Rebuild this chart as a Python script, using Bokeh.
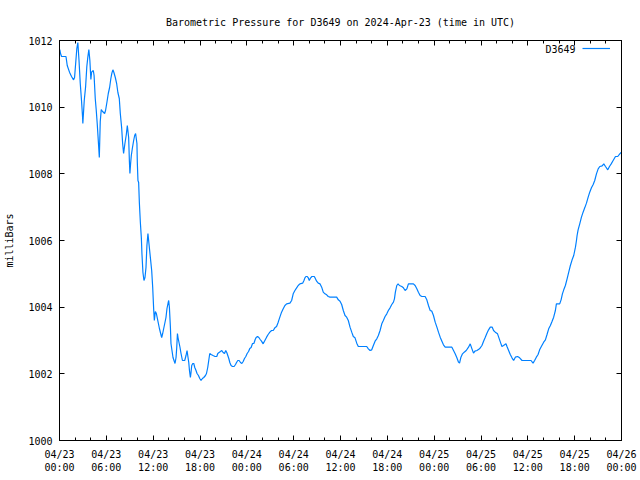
from bokeh.plotting import figure
from bokeh.models import Range1d, FixedTicker, LinearAxis, Legend, LegendItem, Label
from bokeh.embed import file_html
from bokeh.resources import INLINE

station = "D3649"
title_text = "Barometric Pressure for D3649 on 2024-Apr-23 (time in UTC)"

# hours since 2024-04-23 00:00 UTC
hours = [
    0.04, 0.13, 0.26, 0.83, 0.99, 1.28, 1.54, 1.80, 1.93, 2.09,
    2.22, 2.35, 2.50, 2.66, 2.82, 2.95, 2.99, 3.17, 3.34, 3.50,
    3.63, 3.76, 3.89, 4.02, 4.11, 4.33, 4.43, 4.58, 4.71, 4.84,
    5.01, 5.10, 5.22, 5.35, 5.52, 5.78, 5.90, 6.07, 6.25, 6.42,
    6.58, 6.71, 6.84, 6.97, 7.15, 7.32, 7.48, 7.66, 7.79, 7.96,
    8.09, 8.21, 8.38, 8.56, 8.69, 8.86, 8.95, 9.02, 9.11, 9.20,
    9.33, 9.50, 9.63, 9.75, 9.92, 9.97, 10.05, 10.14, 10.23, 10.36,
    10.49, 10.56, 10.69, 10.82, 10.95, 11.08, 11.20, 11.33, 11.42, 11.55,
    11.68, 11.81, 11.94, 12.06, 12.15, 12.28, 12.41, 12.54, 12.67, 12.80,
    12.96, 13.09, 13.22, 13.35, 13.51, 13.64, 13.77, 13.90, 13.99, 14.08,
    14.21, 14.28, 14.41, 14.54, 14.67, 14.80, 14.93, 15.02, 15.11, 15.18,
    15.31, 15.44, 15.57, 15.75, 16.04, 16.21, 16.34, 16.43, 16.56, 16.65,
    16.77, 16.85, 16.94, 17.07, 17.20, 17.33, 17.49, 17.62, 17.80, 17.97,
    18.13, 18.31, 18.48, 18.70, 18.83, 18.99, 19.12, 19.25, 19.42, 19.67,
    19.93, 20.15, 20.28, 20.44, 20.62, 20.79, 20.96, 21.14, 21.30, 21.43,
    21.56, 21.69, 21.82, 21.98, 22.16, 22.37, 22.55, 22.68, 22.84, 23.01,
    23.19, 23.36, 23.53, 23.70, 23.87, 24.04, 24.22, 24.38, 24.55, 24.73,
    24.90, 25.07, 25.19, 25.37, 25.54, 25.71, 25.88, 26.09, 26.31, 26.53,
    26.73, 26.95, 27.17, 27.38, 27.59, 27.81, 28.02, 28.23, 28.45, 28.66,
    28.88, 29.10, 29.52, 29.74, 29.94, 30.16, 30.38, 30.58, 30.80, 31.15,
    31.32, 31.44, 31.57, 31.74, 31.87, 32.00, 32.18, 32.34, 32.64, 32.73,
    32.94, 33.15, 33.37, 33.59, 33.79, 34.01, 34.23, 34.43, 34.65, 35.51,
    35.72, 35.94, 36.15, 36.36, 36.58, 36.79, 37.00, 37.22, 37.44, 37.64,
    37.86, 38.08, 38.28, 39.36, 39.57, 39.79, 40.00, 40.21, 40.43, 40.65,
    40.85, 41.07, 41.29, 41.49, 41.71, 41.93, 42.13, 42.35, 42.57, 42.78,
    42.91, 43.03, 43.21, 43.38, 43.55, 43.85, 44.06, 44.28, 44.50, 44.70,
    45.34, 45.56, 45.78, 45.98, 46.20, 46.42, 46.84, 47.06, 47.27, 47.49,
    47.70, 47.91, 48.13, 48.35, 48.55, 48.77, 48.99, 49.19, 49.41, 50.27,
    50.48, 50.69, 50.91, 51.12, 51.25, 51.43, 51.63, 51.85, 52.11, 52.40,
    52.62, 52.84, 53.04, 53.22, 53.48, 53.81, 54.12, 54.33, 54.55, 54.76,
    54.97, 55.19, 55.44, 55.61, 55.83, 56.12, 56.34, 56.56, 56.68, 56.89,
    57.20, 57.33, 57.54, 57.75, 57.97, 58.18, 58.40, 58.69, 58.95, 59.26,
    60.41, 60.67, 60.87, 61.09, 61.31, 61.51, 61.73, 62.03, 62.25, 62.46,
    62.67, 62.89, 63.11, 63.31, 63.53, 63.66, 64.08, 64.26, 64.43, 64.60,
    64.81, 65.03, 65.24, 65.45, 65.67, 65.88, 66.10, 66.23, 66.31, 66.44,
    66.65, 66.87, 67.08, 67.29, 67.51, 67.73, 67.93, 68.15, 68.37, 68.57,
    68.79, 69.01, 69.22, 69.52, 69.73, 69.95, 70.24, 70.46, 70.68, 70.93,
    71.23, 71.52, 71.78, 71.94,
]

pressure_mb = [
    1011.73, 1011.61, 1011.52, 1011.52, 1011.25, 1011.05, 1010.92, 1010.82, 1010.89, 1011.37,
    1011.76, 1011.94, 1011.40, 1010.71, 1010.20, 1009.72, 1009.51, 1010.20, 1010.60, 1011.22,
    1011.50, 1011.73, 1011.40, 1010.83, 1011.05, 1011.10, 1010.95, 1010.26, 1009.90, 1009.48,
    1008.85, 1008.49, 1009.57, 1009.93, 1009.87, 1009.81, 1009.90, 1010.14, 1010.41, 1010.59,
    1010.86, 1011.02, 1011.12, 1011.04, 1010.89, 1010.71, 1010.44, 1010.26, 1009.81, 1009.39,
    1008.91, 1008.61, 1008.91, 1009.18, 1009.45, 1009.09, 1008.40, 1008.01, 1008.31, 1008.55,
    1008.76, 1009.00, 1009.15, 1009.21, 1008.91, 1008.34, 1007.80, 1007.74, 1007.14, 1006.54,
    1006.06, 1005.61, 1005.04, 1004.80, 1004.89, 1005.19, 1005.85, 1006.21, 1006.00, 1005.70,
    1005.40, 1005.10, 1004.59, 1003.96, 1003.60, 1003.87, 1003.81, 1003.66, 1003.51, 1003.36,
    1003.21, 1003.09, 1003.21, 1003.36, 1003.54, 1003.69, 1003.96, 1004.11, 1004.20, 1003.99,
    1003.39, 1002.91, 1002.70, 1002.49, 1002.40, 1002.31, 1002.49, 1002.79, 1003.21, 1003.09,
    1002.94, 1002.79, 1002.61, 1002.40, 1002.40, 1002.55, 1002.70, 1002.55, 1002.34, 1002.10,
    1001.89, 1002.04, 1002.25, 1002.31, 1002.31, 1002.19, 1002.10, 1002.01, 1001.95, 1001.86,
    1001.80, 1001.86, 1001.89, 1001.95, 1002.01, 1002.19, 1002.40, 1002.61, 1002.58, 1002.55,
    1002.52, 1002.52, 1002.61, 1002.64, 1002.67, 1002.70, 1002.64, 1002.61, 1002.70, 1002.64,
    1002.55, 1002.46, 1002.34, 1002.25, 1002.22, 1002.22, 1002.28, 1002.34, 1002.40, 1002.40,
    1002.34, 1002.31, 1002.37, 1002.46, 1002.52, 1002.61, 1002.67, 1002.76, 1002.79, 1002.91,
    1002.91, 1003.03, 1003.09, 1003.12, 1003.09, 1003.03, 1002.98, 1002.90, 1003.00, 1003.10,
    1003.18, 1003.25, 1003.30, 1003.30, 1003.38, 1003.42, 1003.55, 1003.70, 1003.85, 1003.95,
    1004.05, 1004.10, 1004.12, 1004.20, 1004.40, 1004.50, 1004.58, 1004.65, 1004.70, 1004.72,
    1004.80, 1004.88, 1004.92, 1004.92, 1004.88, 1004.80, 1004.88, 1004.92, 1004.92, 1004.88,
    1004.78, 1004.72, 1004.70, 1004.60, 1004.45, 1004.40, 1004.37, 1004.32, 1004.30, 1004.30,
    1004.22, 1004.18, 1004.08, 1003.90, 1003.75, 1003.70, 1003.60, 1003.40, 1003.25, 1003.12,
    1003.08, 1002.92, 1002.82, 1002.82, 1002.75, 1002.70, 1002.72, 1002.85, 1002.98, 1003.05,
    1003.15, 1003.30, 1003.50, 1003.60, 1003.72, 1003.80, 1003.90, 1003.98, 1004.08, 1004.15,
    1004.25, 1004.45, 1004.65, 1004.70, 1004.65, 1004.62, 1004.58, 1004.50, 1004.55, 1004.70,
    1004.70, 1004.65, 1004.55, 1004.45, 1004.35, 1004.32, 1004.32, 1004.22, 1004.05, 1003.90,
    1003.88, 1003.75, 1003.55, 1003.40, 1003.25, 1003.10, 1002.98, 1002.87, 1002.80, 1002.80,
    1002.70, 1002.60, 1002.48, 1002.35, 1002.32, 1002.50, 1002.60, 1002.65, 1002.70, 1002.80,
    1002.90, 1002.75, 1002.62, 1002.68, 1002.70, 1002.75, 1002.85, 1002.98, 1003.10, 1003.22,
    1003.32, 1003.40, 1003.40, 1003.30, 1003.25, 1003.20, 1003.05, 1002.90, 1002.82, 1002.85,
    1002.90, 1002.82, 1002.70, 1002.58, 1002.48, 1002.40, 1002.50, 1002.52, 1002.48, 1002.40,
    1002.40, 1002.32, 1002.40, 1002.50, 1002.58, 1002.72, 1002.82, 1002.95, 1003.02, 1003.18,
    1003.35, 1003.45, 1003.58, 1003.70, 1003.90, 1004.10, 1004.10, 1004.22, 1004.40, 1004.52,
    1004.65, 1004.85, 1005.05, 1005.25, 1005.42, 1005.55, 1005.80, 1006.00, 1006.15, 1006.32,
    1006.50, 1006.70, 1006.85, 1006.98, 1007.12, 1007.30, 1007.45, 1007.58, 1007.68, 1007.80,
    1008.00, 1008.15, 1008.22, 1008.24, 1008.30, 1008.22, 1008.12, 1008.22, 1008.30, 1008.40,
    1008.52, 1008.52, 1008.60, 1008.64,
]

x_major_ticks = [0, 6, 12, 18, 24, 30, 36, 42, 48, 54, 60, 66, 72]
x_minor_ticks = [0, 2, 4, 6, 8, 10, 12, 14, 16, 18, 20, 22, 24, 26, 28, 30, 32, 34,
                 36, 38, 40, 42, 44, 46, 48, 50, 52, 54, 56, 58, 60, 62, 64, 66, 68, 70, 72]
x_tick_labels = ["04/23\n00:00", "04/23\n06:00", "04/23\n12:00", "04/23\n18:00",
                 "04/24\n00:00", "04/24\n06:00", "04/24\n12:00", "04/24\n18:00",
                 "04/25\n00:00", "04/25\n06:00", "04/25\n12:00", "04/25\n18:00",
                 "04/26\n00:00"]
y_ticks = [1000, 1002, 1004, 1006, 1008, 1010, 1012]

FONT = "DejaVu Sans Mono"
FS = "10px"
LINE_COLOR = "#0080ff"

p = figure(width=640, height=480, output_backend="svg", toolbar_location=None,
           x_range=Range1d(0, 72), y_range=Range1d(1000, 1012),
           min_border_left=59, min_border_right=19, min_border_top=40, min_border_bottom=40,
           background_fill_color="white", border_fill_color="white")

p.title.text = title_text
p.title.align = "center"
p.title.text_font = FONT
p.title.text_font_size = FS
p.title.text_font_style = "normal"
p.title.text_color = "black"
p.title.standoff = 26

p.outline_line_color = "black"
p.outline_line_width = 1
p.grid.visible = False

xt = FixedTicker(ticks=x_major_ticks, minor_ticks=x_minor_ticks)
yt = FixedTicker(ticks=y_ticks, minor_ticks=[])

def style_axis(ax, show_labels):
    ax.axis_line_color = "black"
    ax.major_tick_in = 5
    ax.major_tick_out = 0
    ax.minor_tick_in = 3
    ax.minor_tick_out = 0
    ax.major_tick_line_color = "black"
    ax.minor_tick_line_color = "black"
    ax.major_label_text_font = FONT
    ax.major_label_text_font_size = FS
    ax.major_label_text_color = "black"
    ax.axis_label_text_font = FONT
    ax.axis_label_text_font_size = FS
    ax.axis_label_text_font_style = "normal"
    ax.axis_label_text_color = "black"
    if not show_labels:
        ax.major_label_text_color = None

xa = p.xaxis[0]
xa.ticker = xt
style_axis(xa, True)
xa.major_label_overrides = {t: lab for t, lab in zip(x_major_ticks, x_tick_labels)}
xa.major_label_standoff = 8

ya = p.yaxis[0]
ya.ticker = yt
style_axis(ya, True)
ya.axis_label = "milliBars"
ya.major_label_standoff = 7
ya.axis_label_standoff = 10

top_ax = LinearAxis(ticker=xt, major_label_standoff=0)
style_axis(top_ax, False)
top_ax.major_label_overrides = {t: "" for t in x_major_ticks}
p.add_layout(top_ax, "above")

right_ax = LinearAxis(ticker=yt, major_label_standoff=0)
style_axis(right_ax, False)
right_ax.major_label_overrides = {t: "" for t in y_ticks}
p.add_layout(right_ax, "right")

r = p.line(hours, pressure_mb, line_color=LINE_COLOR, line_width=1.2)

legend = Legend(items=[LegendItem(label="", renderers=[r])],
                location=(523, 387), orientation="vertical",
                label_text_font=FONT, label_text_font_size=FS,
                label_width=0, label_standoff=0,
                glyph_width=28, glyph_height=10, padding=0, spacing=0, margin=0,
                border_line_color=None, background_fill_alpha=0)
p.add_layout(legend, "center")

p.add_layout(Label(x=516, y=391, x_units="screen", y_units="screen", text=station,
                   text_align="right", text_baseline="middle",
                   text_font=FONT, text_font_size=FS, text_color="black"))

open("out.html", "w").write(file_html(p, INLINE))
